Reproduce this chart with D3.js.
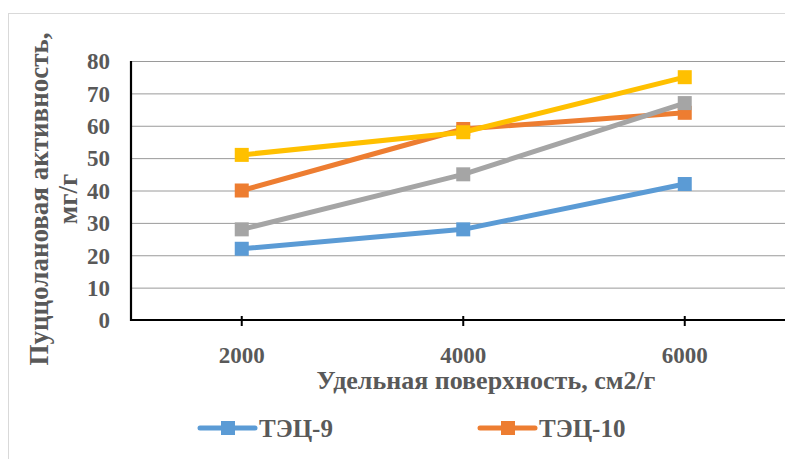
<!DOCTYPE html>
<html>
<head>
<meta charset="utf-8">
<script src="https://cdn.jsdelivr.net/npm/d3@7"></script>
<style>
  html, body { margin: 0; padding: 0; background: #fff; overflow: hidden; }
  svg { display: block; }
  text { font-family: "Liberation Serif", "Times New Roman", serif; font-weight: bold; fill: #595959; }
</style>
</head>
<body>
<svg id="chart" width="785" height="459"></svg>
<script>
// Specific surface area categories, cm2/g
const categories = ["2000", "4000", "6000"];
// Series names
const seriesNames = ["ТЭЦ-9", "ТЭЦ-10", "ТЭЦ-11", "ТЭЦ-12"];
// Pozzolanic activity, mg/g
const tec9 = [22, 28, 42];
const tec10 = [40, 59, 64];
const tec11 = [28, 45, 67];
const tec12 = [51, 58, 75];
const yTicks = [0, 10, 20, 30, 40, 50, 60, 70, 80];
const colors = ["#5B9BD5", "#ED7D31", "#A5A5A5", "#FFC000"];

const seriesValues = [tec9, tec10, tec11, tec12];
const series = seriesNames.map((name, i) => ({ name, values: seriesValues[i], color: colors[i] }));

const svg = d3.select("#chart");

// Chart frame
svg.append("rect")
  .attr("x", 8.5).attr("y", 13.5)
  .attr("width", 900).attr("height", 600)
  .attr("fill", "#fff").attr("stroke", "#d9d9d9").attr("stroke-width", 1);

const plot = { left: 131, top: 61, bottom: 320, right: 785 };
const band = 221.5;

const x = d3.scaleBand()
  .domain(categories)
  .range([plot.left, plot.left + band * categories.length])
  .paddingInner(0).paddingOuter(0);
const xc = c => x(c) + x.bandwidth() / 2;

const y = d3.scaleLinear().domain([0, 80]).range([plot.bottom, plot.top]);

// Horizontal gridlines
const gridAxis = d3.axisLeft(y).tickValues(yTicks).tickSize(-(plot.right - plot.left)).tickFormat("");
const grid = svg.append("g").attr("transform", `translate(${plot.left},0)`).call(gridAxis);
grid.select(".domain").remove();
grid.selectAll(".tick line").attr("stroke", "#9a9a9a").attr("stroke-width", 1);

// Y tick labels
const yAxis = d3.axisLeft(y).tickValues(yTicks).tickSize(0).tickPadding(21);
const ya = svg.append("g").attr("transform", `translate(${plot.left},0)`).call(yAxis);
ya.select(".domain").remove();
ya.selectAll(".tick text")
  .attr("font-family", null).attr("font-size", null)
  .style("font-size", "23px").attr("fill", "#595959").attr("dy", "0.34em");

// Y axis line
svg.append("line")
  .attr("x1", plot.left).attr("x2", plot.left)
  .attr("y1", plot.top).attr("y2", plot.bottom + 1)
  .attr("stroke", "#000").attr("stroke-width", 2.2);

// X axis
const xAxis = d3.axisBottom(x).tickSizeInner(6).tickSizeOuter(0).tickPadding(21);
const xa = svg.append("g").attr("transform", `translate(0,${plot.bottom})`).call(xAxis);
xa.select(".domain").attr("stroke", "#000").attr("stroke-width", 2.2)
  .attr("d", `M${plot.left - 1},0H${plot.right + 10}`);
xa.selectAll(".tick line").attr("stroke", "#000").attr("stroke-width", 2).attr("y1", -4);
xa.selectAll(".tick text")
  .attr("font-family", null).attr("font-size", null)
  .style("font-size", "23px").attr("fill", "#595959");

// Axis titles
svg.append("text")
  .attr("x", 486).attr("y", 389)
  .attr("text-anchor", "middle")
  .style("font-size", "26px")
  .text("Удельная поверхность, см2/г");

const yTitle = svg.append("text")
  .attr("transform", "translate(0,199) rotate(-90)")
  .attr("text-anchor", "middle")
  .style("font-size", "27px");
yTitle.append("tspan").attr("x", 0).attr("y", 48).text("Пуццолановая активность,");
yTitle.append("tspan").attr("x", 0).attr("y", 77).text("мг/г");

// Lines and markers
const line = d3.line().x((d, i) => xc(categories[i])).y(d => y(d));
const gSeries = svg.selectAll(".series").data(series).join("g").attr("class", "series");
gSeries.append("path")
  .attr("d", d => line(d.values))
  .attr("fill", "none")
  .attr("stroke", d => d.color)
  .attr("stroke-width", 5)
  .attr("stroke-linejoin", "round")
  .attr("stroke-linecap", "round");
const ms = 14;
gSeries.selectAll("rect")
  .data(d => d.values.map((v, i) => ({ v, c: categories[i], color: d.color })))
  .join("rect")
  .attr("x", d => xc(d.c) - ms / 2)
  .attr("y", d => y(d.v) - ms / 2)
  .attr("width", ms).attr("height", ms)
  .attr("fill", d => d.color);

// Legend: first row inside the frame; the remaining entries sit on the row below it
const legendRows = [0, 0, 1, 1];
const legend = svg.append("g");
const items = legend.selectAll("g").data(series.filter((d, i) => legendRows[i] === 0)).join("g")
  .attr("transform", (d, i) => `translate(${200 + i * 280},428)`);
items.append("line")
  .attr("x1", 0).attr("x2", 55)
  .attr("stroke", d => d.color).attr("stroke-width", 5).attr("stroke-linecap", "round");
items.append("rect")
  .attr("x", 28 - 7).attr("y", -7).attr("width", 14).attr("height", 14)
  .attr("fill", d => d.color);
items.append("text")
  .attr("x", 59).attr("y", 0).attr("dy", "0.35em")
  .style("font-size", "25px")
  .text(d => d.name);
</script>
</body>
</html>
